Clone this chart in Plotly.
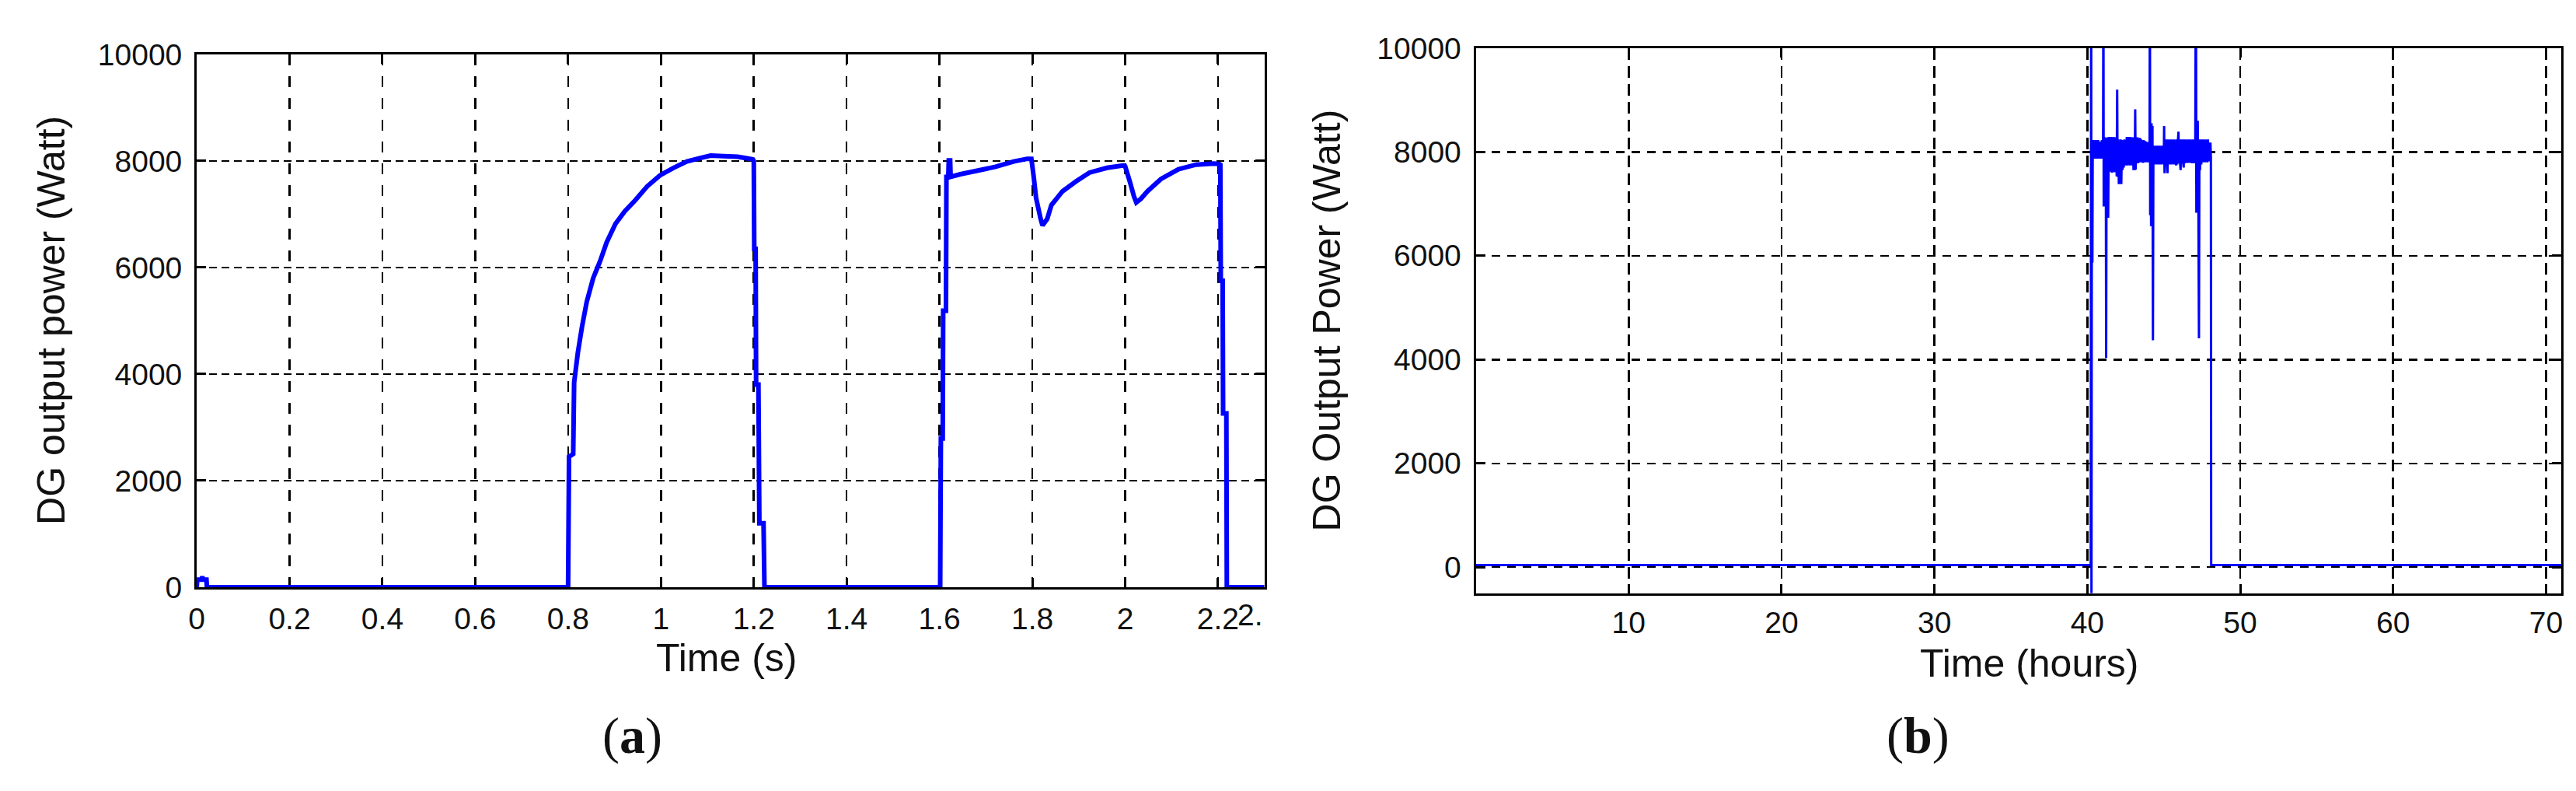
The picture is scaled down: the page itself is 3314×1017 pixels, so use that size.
import plotly.graph_objects as go

# ---------------- Panel (a): DG output power vs time (s) ----------------
a_time = [0, 0.001, 0.011, 0.012, 0.013, 0.021, 0.022,
          0.800, 0.802, 0.811, 0.813, 0.821, 0.830, 0.840, 0.854, 0.869, 0.883,
          0.902, 0.922, 0.945, 0.970, 0.998, 1.027, 1.056, 1.085, 1.107, 1.135,
          1.165, 1.185, 1.198, 1.200, 1.201, 1.204, 1.205, 1.210, 1.212, 1.221, 1.223,
          1.6015, 1.603, 1.607, 1.608, 1.614, 1.615, 1.619, 1.620, 1.623, 1.624,
          1.645, 1.683, 1.721, 1.760, 1.789, 1.798,
          1.803, 1.808, 1.818, 1.822, 1.832, 1.841, 1.865, 1.894, 1.923, 1.961, 1.995, 2.000,
          2.010, 2.019, 2.024, 2.034, 2.048, 2.077, 2.115, 2.153, 2.191, 2.203,
          2.205, 2.206, 2.210, 2.211, 2.218, 2.219, 2.300]
a_power = [0, 140, 140, 205, 140, 140, 0,
           0, 2450, 2500, 3840, 4400, 4890, 5350, 5800, 6120, 6470,
           6820, 7055, 7265, 7520, 7730, 7870, 7990, 8055, 8100, 8090,
           8080, 8050, 8030, 8000, 6350, 6350, 3800, 3800, 1200, 1200, 0,
           0, 2790, 2790, 5190, 5190, 7700, 7700, 8010, 8010, 7700,
           7750, 7820, 7890, 7990, 8040, 8040,
           7700, 7310, 6910, 6790, 6910, 7170, 7430, 7615, 7780, 7870, 7915, 7900,
           7615, 7335, 7220, 7290, 7430, 7660, 7845, 7930, 7950, 7940,
           7930, 5750, 5750, 3260, 3260, 0, 0]

a_xticks = [0, 0.2, 0.4, 0.6, 0.8, 1.0, 1.2, 1.4, 1.6, 1.8, 2.0, 2.2]
a_xticktext = ["0", "0.2", "0.4", "0.6", "0.8", "1", "1.2", "1.4", "1.6", "1.8", "2", "2.2"]
a_yticks = [0, 2000, 4000, 6000, 8000, 10000]
a_yticktext = ["0", "2000", "4000", "6000", "8000", "10000"]

# ---------------- Panel (b): DG output power vs time (hours) ----------------
b_time = [0, 40.22, 40.25, 40.27, 40.29, 40.31, 40.33, 40.35, 40.39, 40.43, 40.47,
          40.51, 40.55, 40.59, 40.63, 40.67, 40.71, 40.75, 40.79, 40.83, 40.87,
          40.91, 40.95, 40.99, 41.03, 41.05, 41.07, 41.10, 41.14, 41.18, 41.21,
          41.23, 41.26, 41.30, 41.34, 41.36, 41.40, 41.44, 41.48, 41.52, 41.56,
          41.60, 41.64, 41.68, 41.72, 41.76, 41.80, 41.84, 41.88, 41.92, 41.95,
          41.98, 42.02, 42.06, 42.10, 42.14, 42.18, 42.22, 42.26, 42.30, 42.34,
          42.38, 42.42, 42.46, 42.50, 42.54, 42.58, 42.62, 42.66, 42.70, 42.74,
          42.78, 42.82, 42.86, 42.90, 42.94, 42.98, 43.02, 43.06, 43.10, 43.13,
          43.16, 43.20, 43.24, 43.28, 43.32, 43.36, 43.40, 43.44, 43.48, 43.52,
          43.56, 43.60, 43.64, 43.68, 43.72, 43.76, 43.80, 43.84, 43.88, 43.92,
          43.96, 44.00, 44.04, 44.07, 44.09, 44.11, 44.14, 44.17, 44.20, 44.23,
          44.26, 44.29, 44.32, 44.36, 44.40, 44.44, 44.48, 44.52, 44.56, 44.60,
          44.64, 44.68, 44.72, 44.76, 44.80, 44.84, 44.88, 44.92, 44.96, 45.00,
          45.02, 45.05, 45.09, 45.13, 45.17, 45.21, 45.24, 45.28, 45.32, 45.36,
          45.40, 45.44, 45.48, 45.52, 45.56, 45.60, 45.64, 45.68, 45.72, 45.76,
          45.80, 45.84, 45.88, 45.92, 45.96, 45.99, 46.03, 46.07, 46.10, 46.14,
          46.18, 46.22, 46.26, 46.30, 46.34, 46.38, 46.42, 46.46, 46.50, 46.54,
          46.58, 46.62, 46.66, 46.70, 46.74, 46.78, 46.82, 46.86, 46.90, 46.94,
          46.98, 47.02, 47.06, 47.10, 47.13, 47.16, 47.19, 47.22, 47.26, 47.30,
          47.33, 47.37, 47.41, 47.45, 47.49, 47.53, 47.57, 47.61, 47.65, 47.69,
          47.73, 47.77, 47.81, 47.85, 47.89, 47.93, 47.97, 48.01, 48.05, 48.08,
          48.10, 71.0]
b_power = [40, 40, 12000, -800, 5870, 8120, 5870, 7870, 8230, 7880, 8200,
           7870, 8230, 7870, 8180, 7880, 8230, 7870, 8200, 7880, 8170,
           7870, 8230, 7900, 8150, 12000, 6950, 8290, 7640, 8250, 7700,
           4030, 8280, 7650, 8200, 6730, 8290, 7640, 8250, 7620, 8290,
           7600, 8260, 7650, 8290, 7610, 8240, 7700, 8280, 7530, 9200,
           7520, 8240, 7380, 8200, 7400, 8240, 7380, 8230, 7650, 8180,
           7700, 8240, 7800, 8160, 7740, 8290, 7740, 8290, 7760, 8280,
           7740, 8290, 7800, 8250, 7740, 8280, 7650, 8260, 7650, 8820,
           7660, 8240, 7800, 8280, 7780, 8250, 7800, 8270, 7800, 8240,
           7820, 8200, 7790, 8230, 7820, 8210, 7800, 8200, 7820, 8170,
           7800, 8190, 7850, 8200, 12000, 6780, 8550, 6570, 8550, 7000,
           8500, 4370, 8120, 7760, 8120, 7770, 8100, 7760, 8120, 7780,
           8110, 7760, 8120, 7770, 8100, 7760, 8120, 7780, 8110, 7760,
           8500, 7590, 8240, 7760, 8240, 7770, 7590, 8240, 7760, 8230,
           7770, 8240, 7760, 8240, 7780, 8230, 7760, 8240, 7770, 8200,
           7740, 8240, 7760, 8200, 8390, 7780, 8240, 7760, 7650, 8240,
           7780, 8240, 7800, 7700, 8240, 7780, 8240, 7800, 8230, 7790,
           8240, 7800, 8240, 7790, 8240, 7800, 8230, 7780, 8240, 7800,
           8240, 7780, 8240, 12000, 6830, 8600, 7000, 8600, 7100, 4410,
           8240, 7650, 8240, 7760, 8240, 7800, 8240, 7820, 8240, 7800,
           8230, 7820, 8240, 7800, 8240, 7820, 8180, 7820, 8180, 7900,
           40, 40]

b_xticks = [10, 20, 30, 40, 50, 60, 70]
b_xticktext = ["10", "20", "30", "40", "50", "60", "70"]
b_yticks = [0, 2000, 4000, 6000, 8000, 10000]
b_yticktext = ["0", "2000", "4000", "6000", "8000", "10000"]

W, H = 3314, 1017
BLUE = "#0000ff"
TICKFONT = dict(family="Liberation Sans, Arial, sans-serif", size=39, color="#111111")
TITLEFONT = dict(family="Liberation Sans, Arial, sans-serif", size=50, color="#111111")
LABELFONT = dict(family="Liberation Serif, Times New Roman, serif", size=66, color="#111111")


def px_x(px):
    return px / W


def px_y(py):
    return 1 - py / H


fig = go.Figure()
fig.add_trace(go.Scatter(x=a_time, y=a_power, mode="lines",
                         line=dict(color=BLUE, width=6, simplify=False),
                         xaxis="x", yaxis="y", showlegend=False, hoverinfo="skip"))
fig.add_trace(go.Scatter(x=b_time, y=b_power, mode="lines",
                         line=dict(color=BLUE, width=3, simplify=False),
                         xaxis="x2", yaxis="y2", showlegend=False, hoverinfo="skip"))

common = dict(showline=True, linecolor="black", linewidth=3, mirror="ticks",
              ticks="inside", ticklen=12, tickwidth=3, tickcolor="black",
              showgrid=True, gridcolor="black", gridwidth=2.5, zeroline=False,
              layer="below traces", tickfont=TICKFONT, fixedrange=True,
              tickmode="array")

fig.update_layout(
    width=W, height=H,
    margin=dict(l=0, r=0, t=0, b=0),
    paper_bgcolor="white", plot_bgcolor="white",
    showlegend=False,
    xaxis=dict(common, domain=[px_x(235), px_x(1614)], range=[0, 2.3],
               tickvals=a_xticks, ticktext=a_xticktext,
               griddash="14px,14px", ticklabelstandoff=4, anchor="y"),
    yaxis=dict(common, domain=[px_y(758), px_y(42.7)], range=[0, 10000],
               tickvals=a_yticks, ticktext=a_yticktext,
               griddash="10px,6px", ticklabelstandoff=8, anchor="x"),
    xaxis2=dict(common, domain=[px_x(1887), px_x(3289)], range=[0, 71],
                tickvals=b_xticks, ticktext=b_xticktext,
                griddash="15px,8px", ticklabelstandoff=2, anchor="y2"),
    yaxis2=dict(common, domain=[px_y(766), px_y(34.3)], range=[-500, 10000],
                tickvals=b_yticks, ticktext=b_yticktext,
                griddash="11px,9px", ticklabelstandoff=8, anchor="x2"),
)

annotations = [
    # clipped extra tick label at the right end of panel (a)
    dict(text="2.", x=2.3, xref="x", xanchor="right", y=px_y(795), yref="paper",
         yanchor="middle", showarrow=False, font=TICKFONT),
    dict(text="DG output power (Watt)", x=px_x(47), y=px_y(400), xref="paper", yref="paper",
         textangle=-90, showarrow=False, font=TITLEFONT, xanchor="center", yanchor="middle"),
    dict(text="Time (s)", x=px_x(919), y=px_y(853), xref="paper", yref="paper",
         showarrow=False, font=TITLEFONT, xanchor="center", yanchor="middle"),
    dict(text="(<b>a</b>)", x=px_x(798), y=px_y(958), xref="paper", yref="paper",
         showarrow=False, font=LABELFONT, xanchor="center", yanchor="middle"),
    dict(text="DG Output Power (Watt)", x=px_x(1695), y=px_y(400), xref="paper", yref="paper",
         textangle=-90, showarrow=False, font=TITLEFONT, xanchor="center", yanchor="middle"),
    dict(text="Time (hours)", x=px_x(2602), y=px_y(860), xref="paper", yref="paper",
         showarrow=False, font=TITLEFONT, xanchor="center", yanchor="middle"),
    dict(text="(<b>b</b>)", x=px_x(2458), y=px_y(958), xref="paper", yref="paper",
         showarrow=False, font=LABELFONT, xanchor="center", yanchor="middle"),
]
fig.update_layout(annotations=annotations)

fig.write_html("out.html", config={"displayModeBar": False, "staticPlot": True})
